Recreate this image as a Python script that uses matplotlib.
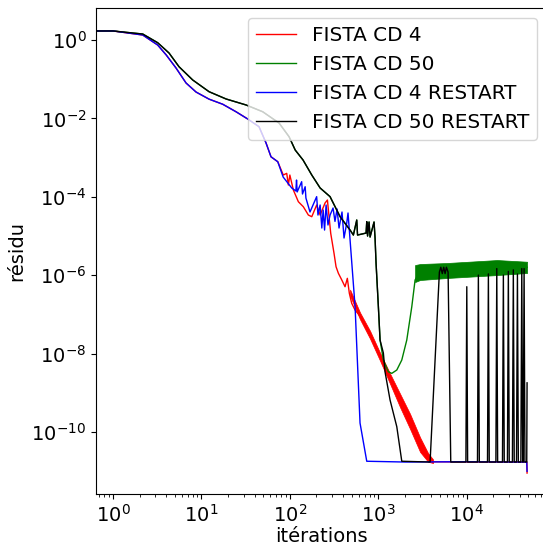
import numpy as np
import matplotlib.pyplot as plt

# FISTA CD 4 (commun aux deux versions au debut)
it_cd4_debut = [0, 1, 2.17, 3.2, 4.0, 5.16, 6.7, 8.7, 12.2, 17.4, 24.6, 33.4, 44.8, 53.8, 61.2, 73]
res_cd4_debut = [1.73, 1.70, 1.34, 0.745, 0.414, 0.193, 0.080, 0.047, 0.031, 0.023, 0.0148,
                 0.00966, 0.00614, 0.00236, 0.00105, 7.86e-4]

it_cd4_fin = [84.3, 92.2, 96.2, 100, 109.6, 124.8, 142, 162, 177, 201, 220, 250, 266, 280, 290,
              316, 333, 354, 387, 421, 447, 471, 501, 547, 622, 808, 1048, 1360, 1764, 2290,
              2973, 3659, 4168, 10000, 30000, 48000, 48200]
res_cd4_fin = [3.6e-4, 3.97e-4, 2.0e-4, 3.6e-4, 1.49e-4, 7.5e-5, 5.59e-5, 3.43e-5, 3.11e-5, 6.18e-5,
               3.43e-5, 6.95e-5, 8.28e-5, 2.56e-5, 1.17e-5, 3.62e-6, 1.65e-6, 1.12e-6, 7.55e-7, 5.09e-7,
               8.34e-7, 3.45e-7, 1.92e-7, 1.29e-7, 9.1e-8, 3.0e-8, 8.2e-9, 2.3e-9, 6.2e-10, 1.9e-10,
               4.7e-11, 2.3e-11, 1.75e-11, 1.72e-11, 1.72e-11, 1.72e-11, 9e-12]

# oscillations rapides de CD 4 (enveloppe)
it_cd4_bande = [480, 622, 808, 1048, 1360, 1764, 2290, 2973, 3659, 4168]
haut_cd4_bande = [4.3e-7, 1.12e-7, 3.8e-8, 1.05e-8, 3.1e-9, 9.5e-10, 2.9e-10, 7.3e-11, 2.9e-11, 2.0e-11]
bas_cd4_bande = [3.0e-7, 7.5e-8, 2.4e-8, 6.6e-9, 1.7e-9, 4.3e-10, 1.2e-10, 3.1e-11, 1.75e-11, 1.62e-11]

# FISTA CD 4 RESTART
it_cd4r_fin = [84, 105, 117, 119, 121, 136, 139, 149, 152, 169, 201, 208, 220, 230, 238, 247, 257,
               270, 285, 308, 324, 342, 360, 389, 410, 440, 455, 480, 547, 622, 741, 2000, 10000,
               30000, 47800, 48200]
res_cd4r_fin = [3.2e-4, 1.68e-4, 1.41e-4, 2.68e-4, 1.33e-4, 2.43e-4, 1.18e-4, 1.81e-4, 9.3e-5, 4.10e-5,
                1.01e-4, 3.43e-5, 6.18e-5, 1.60e-5, 4.61e-5, 1.42e-5, 6.18e-5, 1.91e-5, 3.43e-5, 5.18e-5,
                2.36e-5, 4.89e-5, 1.60e-5, 4.10e-5, 8.90e-6, 2.15e-5, 3.87e-5, 7.91e-6, 1.55e-7, 1.70e-10,
                1.8e-11, 1.72e-11, 1.75e-11, 1.72e-11, 1.72e-11, 1.0e-11]

# FISTA CD 50 (commun aux deux versions au debut)
it_cd50_debut = [0, 1, 2.17, 3.2, 4.30, 5.58, 7.97, 12.2, 19.0, 32.0, 49.3, 75.5, 98, 115, 141,
                 177, 220, 285, 370, 480, 523, 571, 583, 728, 741, 757, 787, 808, 896, 920,
                 944, 1003, 1048]
res_cd50_debut = [1.73, 1.70, 1.42, 0.853, 0.466, 0.208, 0.0955, 0.048, 0.0313, 0.022, 0.0148,
                  0.00763, 0.00341, 0.00156, 8.69e-4, 3.6e-4, 1.68e-4, 1.01e-4, 3.11e-5, 1.42e-5,
                  1.06e-5, 2.56e-5, 1.06e-5, 1.19e-5, 2.32e-5, 1.0e-5, 2.28e-5, 9.42e-6, 2.28e-5,
                  8.9e-6, 2.05e-6, 1.57e-7, 2.22e-8]

it_cd50_fin = [1142, 1301, 1422, 1620, 1845, 2101, 2394, 2609, 2973, 6000, 22100, 48200]
res_cd50_fin = [6.87e-9, 3.45e-9, 3.14e-9, 3.82e-9, 6.87e-9, 2.22e-8, 1.57e-7, 7.55e-7, 1.3e-6,
                1.4e-6, 1.6e-6, 1.6e-6]

it_cd50_bande = [2609, 2973, 6000, 22100, 48200]
haut_cd50_bande = [1.82e-6, 1.93e-6, 2.05e-6, 2.44e-6, 2.21e-6]
bas_cd50_bande = [6.7e-7, 7.55e-7, 8.5e-7, 1.01e-6, 1.14e-6]

# FISTA CD 50 RESTART
it_cd50r_fin = [1142, 1194, 1360, 1620, 1845, 3856, 4912, 5100, 5300, 5500, 5700, 5900, 6163, 6607,
                9800, 10030, 10250,
                13250, 13560, 13900,
                17200, 17600, 18000,
                21400, 21900, 22400,
                25400, 26000, 26600,
                28900, 29600, 30300,
                32900, 33700, 34500,
                36600, 37500, 38400,
                41000, 42000, 43000,
                43600, 44600, 45600,
                47800, 48200]
res_cd50r_fin = [1.04e-8, 3.4e-9, 6.55e-10, 1.37e-10, 1.8e-11, 1.72e-11, 1.2e-6, 1.6e-6, 1.1e-6,
                 1.6e-6, 1.1e-6, 1.6e-6, 1.2e-6, 1.72e-11,
                 1.72e-11, 5.1e-7, 1.72e-11,
                 1.72e-11, 1.01e-6, 1.72e-11,
                 1.72e-11, 1.08e-6, 1.72e-11,
                 1.72e-11, 1.48e-6, 1.72e-11,
                 1.72e-11, 1.01e-6, 1.72e-11,
                 1.72e-11, 1.25e-6, 1.72e-11,
                 1.72e-11, 1.37e-6, 1.72e-11,
                 1.72e-11, 1.08e-6, 1.72e-11,
                 1.72e-11, 1.48e-6, 1.72e-11,
                 1.72e-11, 1.48e-6, 1.72e-11,
                 1.72e-11, 1.8e-9]

fig = plt.figure(figsize=(5.43, 5.45), dpi=100)
ax = fig.add_axes([96 / 543, 51 / 545, 451 / 543, 486 / 545])

lw = 1.0
ax.plot(it_cd4_debut + it_cd4_fin, res_cd4_debut + res_cd4_fin, color="red", lw=lw, label="FISTA CD 4")
ax.fill_between(it_cd4_bande, bas_cd4_bande, haut_cd4_bande, color="red", lw=0.5)
ax.plot(it_cd50_debut + it_cd50_fin, res_cd50_debut + res_cd50_fin, color="green", lw=lw, label="FISTA CD 50")
ax.fill_between(it_cd50_bande, bas_cd50_bande, haut_cd50_bande, color="green", lw=0.5)
ax.plot(it_cd4_debut + it_cd4r_fin, res_cd4_debut + res_cd4r_fin, color="blue", lw=lw, label="FISTA CD 4 RESTART")
ax.plot(it_cd50_debut + it_cd50r_fin, res_cd50_debut + res_cd50r_fin, color="black", lw=lw, label="FISTA CD 50 RESTART")

ax.set_xscale("log")
ax.set_yscale("log")
ax.set_xlim(0.642, 81000)
ax.set_ylim(2.63e-12, 6.55)
ax.set_yticks([1e0, 1e-2, 1e-4, 1e-6, 1e-8, 1e-10])
ax.tick_params(labelsize=14)
ax.set_xlabel("itérations", fontsize=14, labelpad=1)
ax.set_ylabel("résidu", fontsize=14)
ax.legend(loc="upper right", fontsize=14.4)

plt.savefig("out.png", dpi=100)
